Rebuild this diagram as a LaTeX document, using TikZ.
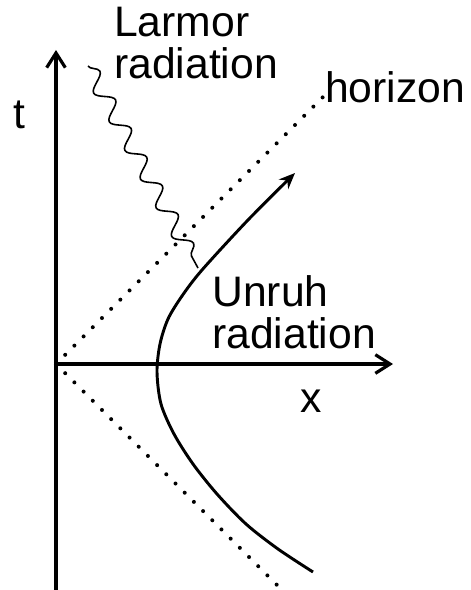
\documentclass[tikz,border=0pt]{standalone}
\usepackage{fontspec}
\setmainfont{Liberation Sans}
\usetikzlibrary{arrows.meta,decorations.pathmorphing}
\tikzset{
  eje/.style={-{Straight Barb[length=11pt,width=14pt]}, line width=2.4pt},
  horizonte/.style={line width=3pt, line cap=round, dash pattern=on 0pt off 9.75pt},
  trayectoria/.style={-{Stealth[length=12pt,width=10pt]}, line width=2.2pt},
  onda/.style={decorate, decoration={snake, segment length=24.5pt, amplitude=6pt}, line width=1.2pt},
  rotulo/.style={font=\fontsize{32}{31.5}\selectfont, inner sep=0pt},
}
\begin{document}
\begin{tikzpicture}[x=0.75pt, y=0.75pt]
  \useasboundingbox (-56,-226) rectangle (415,364);
  \coordinate (O) at (0,0);
  \coordinate (tini) at (0,-228);
  \coordinate (tfin) at (0,314);
  \coordinate (xini) at (-2,0);
  \coordinate (xfin) at (337,0);
  \draw[eje] (tini) -- (tfin);
  \draw[eje] (xini) -- (xfin);
  \draw[horizonte] (O) -- (270,270);
  \draw[horizonte] (O) -- (224,-224);
  \draw[trayectoria] plot[smooth] coordinates {(257,-208) (222,-185) (190,-160) (161,-130) (137,-100) (118,-70) (105,-40) (101,-8) (104,20) (112,45) (126,68) (146,94) (192,144) (239,191)};
  \coordinate (fuente) at (142,96);
  \coordinate (lejos) at (32,298);
  \draw[onda] (lejos) -- (fuente);
  \node[rotulo, anchor=base west, align=left] (larmor) at (58,286) {Larmor\\radiation};
  \node[rotulo, anchor=base west] (horizon) at (269,262) {horizon};
  \node[rotulo, anchor=base west] (tlab) at (-43,235) {t};
  \node[rotulo, anchor=base west, align=left] (unruh) at (156,16) {Unruh\\radiation};
  \node[rotulo, anchor=base west] (xlab) at (244,-48) {x};
\end{tikzpicture}
\end{document}
